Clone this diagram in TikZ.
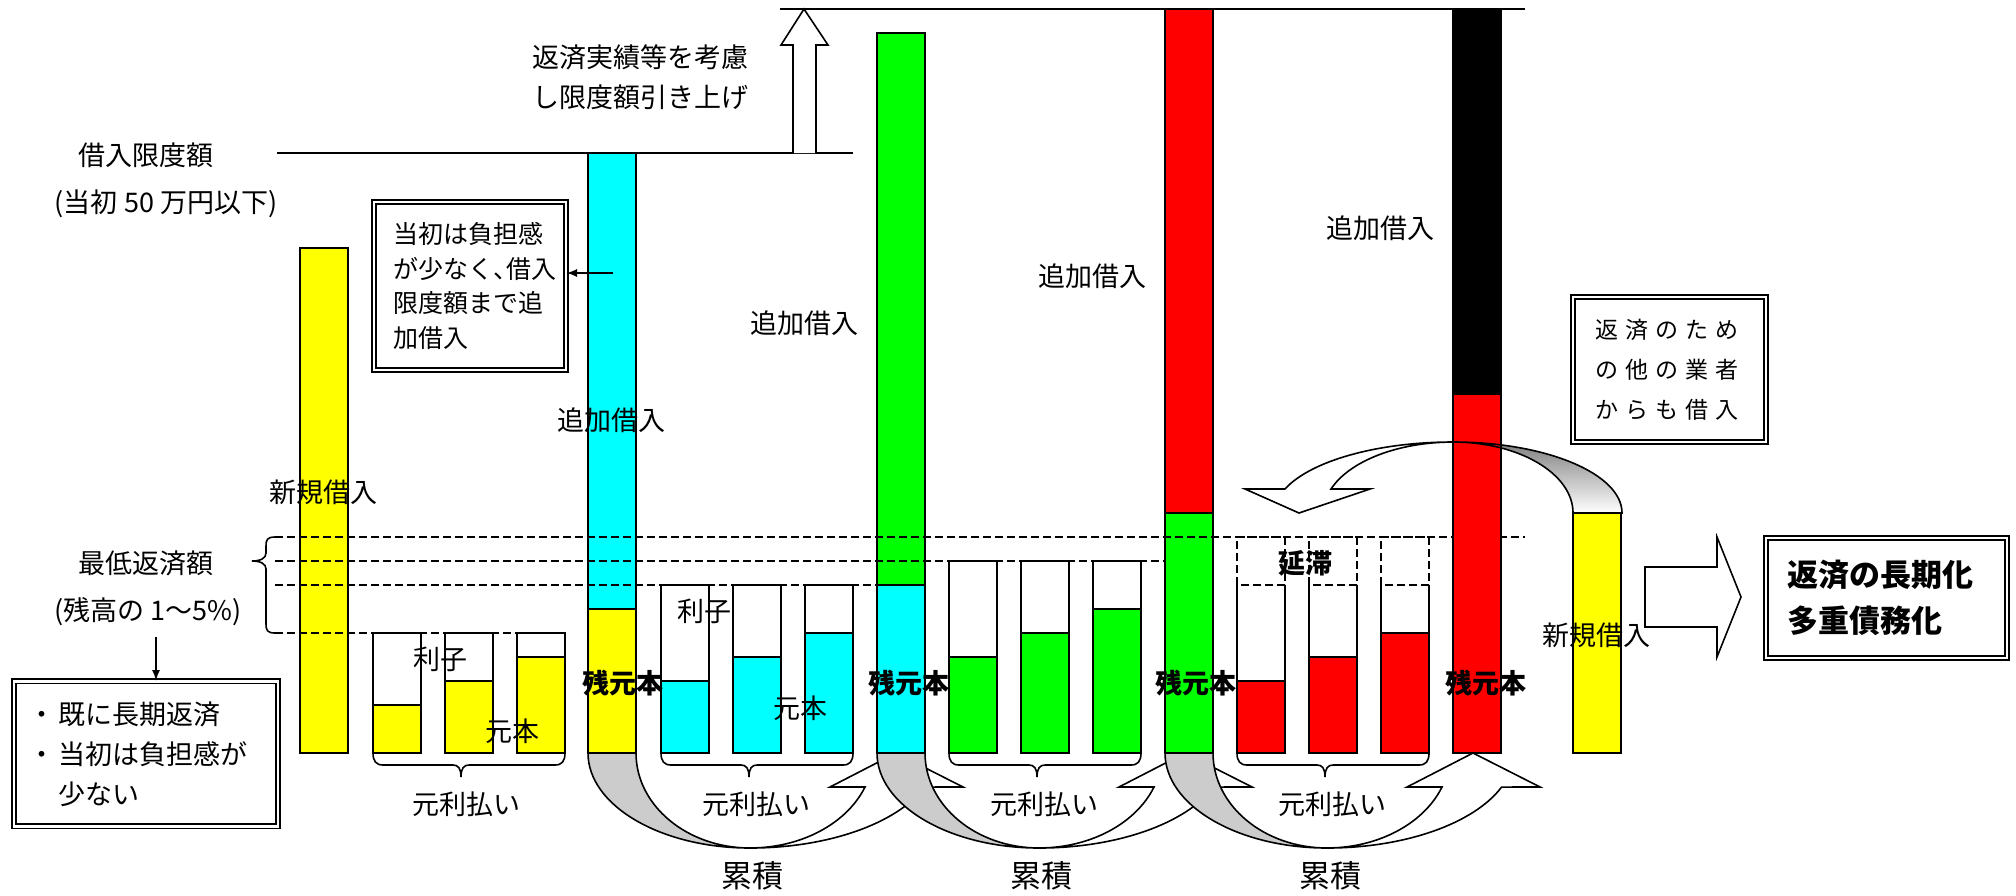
\documentclass[tikz,border=0pt]{standalone}
\usepackage{fontspec}
\setmainfont{Noto Sans CJK JP}
\newfontfamily\jpprop{Noto Sans CJK JP}[RawFeature=+palt]
\newfontfamily\jpwide{Noto Sans CJK JP}[LetterSpace=30]
\newcommand\jpbullet{\makebox[15pt][l]{・}}
\definecolor{baryellow}{RGB}{255,255,0}
\definecolor{barcyan}{RGB}{0,255,255}
\definecolor{bargreen}{RGB}{0,255,0}
\definecolor{barred}{RGB}{255,0,0}
\definecolor{shade}{RGB}{204,204,204}

\begin{document}
\begin{tikzpicture}[
    x=0.5pt, y=-0.5pt,
    lbl/.style={inner sep=0pt, font=\fontsize{13.5}{20}\selectfont},
    boldlbl/.style={inner sep=0pt, font=\fontsize{13.5}{20}\selectfont\bfseries},
    biglbl/.style={inner sep=0pt, font=\fontsize{15.5}{23}\selectfont},
    paylbl/.style={lbl, fill=white, inner xsep=2pt, inner ysep=1pt},
    bar/.style={draw, line width=1pt},
    dline/.style={dashed, dash pattern=on 4pt off 2pt, line width=0.75pt},
    dbox/.style={draw, double, line width=0.8pt, double distance=1.3pt,
      align=left, anchor=north west, inner ysep=0pt},
    arr/.style={-latex, line width=0.8pt},
    arrback/.style={fill=shade, draw, line width=0.8pt},
    arrfront/.style={fill=white, draw, line width=0.8pt}
    ]
    \useasboundingbox (0,0) rectangle (2016,895);

    % accumulation arrows below the bars
    \foreach \L in {588,877,1165} {
      \draw[arrback] (\L,753) arc[start angle=180, end angle=90, x radius=162, y radius=95]
        arc[start angle=90, end angle=180, x radius=114, y radius=95] -- cycle;
      \draw[arrfront] (\L+162,848) arc[start angle=90, end angle=21, x radius=187, y radius=95]
        -- (\L+375,787) -- (\L+308,753) -- (\L+242,787) -- (\L+277,787)
        arc[start angle=21, end angle=90, x radius=123, y radius=95] -- cycle;
    }

    % borrowing from other lenders
    \fill[shade] (1622,513) arc[start angle=0, end angle=-90, x radius=169, y radius=71]
      arc[start angle=-90, end angle=0, x radius=120, y radius=71] -- cycle;
    \draw[arrfront] (1453,442) arc[start angle=-90, end angle=-160.2, x radius=178.5, y radius=71]
      -- (1245,489) -- (1299,513) -- (1370,489) -- (1331,489)
      arc[start angle=-160.2, end angle=-90, x radius=129.6, y radius=71] -- cycle;

    % bars
    \draw[bar, fill=baryellow] (300,248) rectangle (348,753);
    \foreach \x/\t in {373/705, 445/681, 517/657} {
      \draw[bar, fill=white] (\x,633) rectangle (\x+48,753);
      \draw[bar, fill=baryellow] (\x,\t) rectangle (\x+48,753);
    }
    \draw[bar, fill=barcyan] (588,153) rectangle (636,609);
    \draw[bar, fill=baryellow] (588,609) rectangle (636,753);
    \foreach \x/\t in {661/681, 733/657, 805/633} {
      \draw[bar, fill=white] (\x,585) rectangle (\x+48,753);
      \draw[bar, fill=barcyan] (\x,\t) rectangle (\x+48,753);
    }
    \draw[bar, fill=bargreen] (877,33) rectangle (925,585);
    \draw[bar, fill=barcyan] (877,585) rectangle (925,753);
    \foreach \x/\t in {949/657, 1021/633, 1093/609} {
      \draw[bar, fill=white] (\x,561) rectangle (\x+48,753);
      \draw[bar, fill=bargreen] (\x,\t) rectangle (\x+48,753);
    }
    \draw[bar, fill=barred] (1165,9) rectangle (1213,513);
    \draw[bar, fill=bargreen] (1165,513) rectangle (1213,753);
    \foreach \x/\t in {1237/681, 1309/657, 1381/633} {
      \fill[white] (\x,585) rectangle (\x+48,753);
      \draw[bar] (\x,585) -- (\x,753) -- (\x+48,753) -- (\x+48,585);
      \draw[bar, fill=barred] (\x,\t) rectangle (\x+48,753);
      \draw[dline] (\x,585) rectangle (\x+48,537);
    }
    \draw[bar, fill=baryellow] (1573,513) rectangle (1621,753);

    % minimum payment levels
    \draw[dline] (275,537) -- (1525,537);
    \draw[dline] (275,561) -- (1165,561);
    \draw[dline] (275,585) -- (877,585);
    \draw[dline] (275,633) -- (565,633);

    \draw[bar, fill=black] (1453,9) rectangle (1501,394);
    \draw[bar, fill=barred] (1453,394) rectangle (1501,753);
    \draw[line width=0.8pt] (1622,513) arc[start angle=0, end angle=-90, x radius=169, y radius=71]
      arc[start angle=-90, end angle=0, x radius=120, y radius=71] -- cycle;

    % limit lines
    \draw[line width=1pt] (277,153) -- (853,153);
    \draw[line width=1pt] (780,9) -- (1525,9);
    \draw[arrfront] (793,153) -- (793,45) -- (781,45) -- (804,9) -- (828,45) -- (816,45) -- (816,153);
    \draw[arrfront] (1645,567) -- (1717,567) -- (1717,537) -- (1741,597) -- (1717,657)
      -- (1717,627) -- (1645,627) -- cycle;

    % braces
    \draw[line width=0.8pt] (275,537) .. controls (267,537) and (266,540) .. (266,546) -- (266,553)
      .. controls (266,558) and (261,561) .. (252,561) .. controls (261,561) and (266,564) .. (266,569)
      -- (266,624) .. controls (266,630) and (267,633) .. (275,633);
    \foreach \a in {373,661,949,1237} {
      \draw[line width=0.8pt] (\a,753) .. controls (\a,761) and (\a+3,765) .. (\a+10,765) -- (\a+80,765)
        .. controls (\a+85,765) and (\a+88,768) .. (\a+88,777) .. controls (\a+88,768) and (\a+91,765) .. (\a+96,765)
        -- (\a+182,765) .. controls (\a+189,765) and (\a+192,761) .. (\a+192,753);
    }

    % text
    \node[lbl] (limit) at (146,155) {借入限度額};
    \node[lbl] (limitnote) at (166,204) {(当初 50 万円以下)};
    \node[lbl] (minpay) at (146,563) {最低返済額};
    \node[lbl] (minnote) at (148,612) {(残高の 1～5\%)};
    \node[lbl, align=left, anchor=west] (raise) at (532,77) {返済実績等を考慮\\し限度額引き上げ};

    \node[lbl] (new1) at (323,492) {新規借入};
    \node[lbl] (add1) at (611,420) {追加借入};
    \node[lbl] (add2) at (804,323) {追加借入};
    \node[lbl] (add3) at (1092,276) {追加借入};
    \node[lbl] (add4) at (1380,228) {追加借入};
    \node[lbl] (new2) at (1596,635) {新規借入};
    \node[lbl] (int1) at (440,659) {利子};
    \node[lbl] (prin1) at (512,731) {元本};
    \node[lbl] (int2) at (704,611) {利子};
    \node[lbl] (prin2) at (800,708) {元本};
    \node[boldlbl] (delay) at (1305,563) {延滞};
    \foreach \x [count=\i] in {623,909,1196,1486}
      \node[boldlbl] (rem\i) at (\x,683) {残元本};
    \foreach \x [count=\i] in {466,756,1044,1332}
      \node[paylbl] (pay\i) at (\x,804) {元利払い};
    \foreach \x [count=\i] in {752,1041,1330}
      \node[biglbl] (acc\i) at (\x,876) {累積};

    \node[dbox, minimum width=96pt, minimum height=84pt, text width=76pt, inner xsep=10pt,
      font=\fontsize{12.5}{17.3}\selectfont] (box1) at (373,201)
      {当初は負担感\\が少なく{\jpprop 、}借入\\限度額まで追\\加借入\\[-5pt]};
    \node[dbox, minimum width=132pt, minimum height=72.5pt, text width=117pt, inner xsep=7.5pt,
      font=\fontsize{13.5}{20}\selectfont] (box2) at (13,680.5)
      {\jpbullet 既に長期返済\\\jpbullet 当初は負担感が\\\hspace*{15pt}少ない};
    \node[dbox, minimum width=96.5pt, minimum height=72.5pt, text width=73.5pt, inner xsep=11.5pt,
      font=\jpwide\fontsize{11.5}{20}\selectfont] (box3) at (1572,296)
      {返済のため\\の他の業者\\からも借入};
    \node[dbox, minimum width=120.5pt, minimum height=60pt, text width=98.5pt, inner xsep=11pt,
      font=\bfseries\fontsize{15.5}{23}\selectfont] (box4) at (1765,537)
      {返済の長期化\\多重債務化};

    \coordinate (b2p) at (613,273);
    \draw[arr] (b2p) -- (b2p -| box1.east);
    \draw[arr] ([xshift=4pt, yshift=-5pt]minnote.south) -- ([xshift=4pt]minnote.south |- box2.north);
\end{tikzpicture}
\end{document}
